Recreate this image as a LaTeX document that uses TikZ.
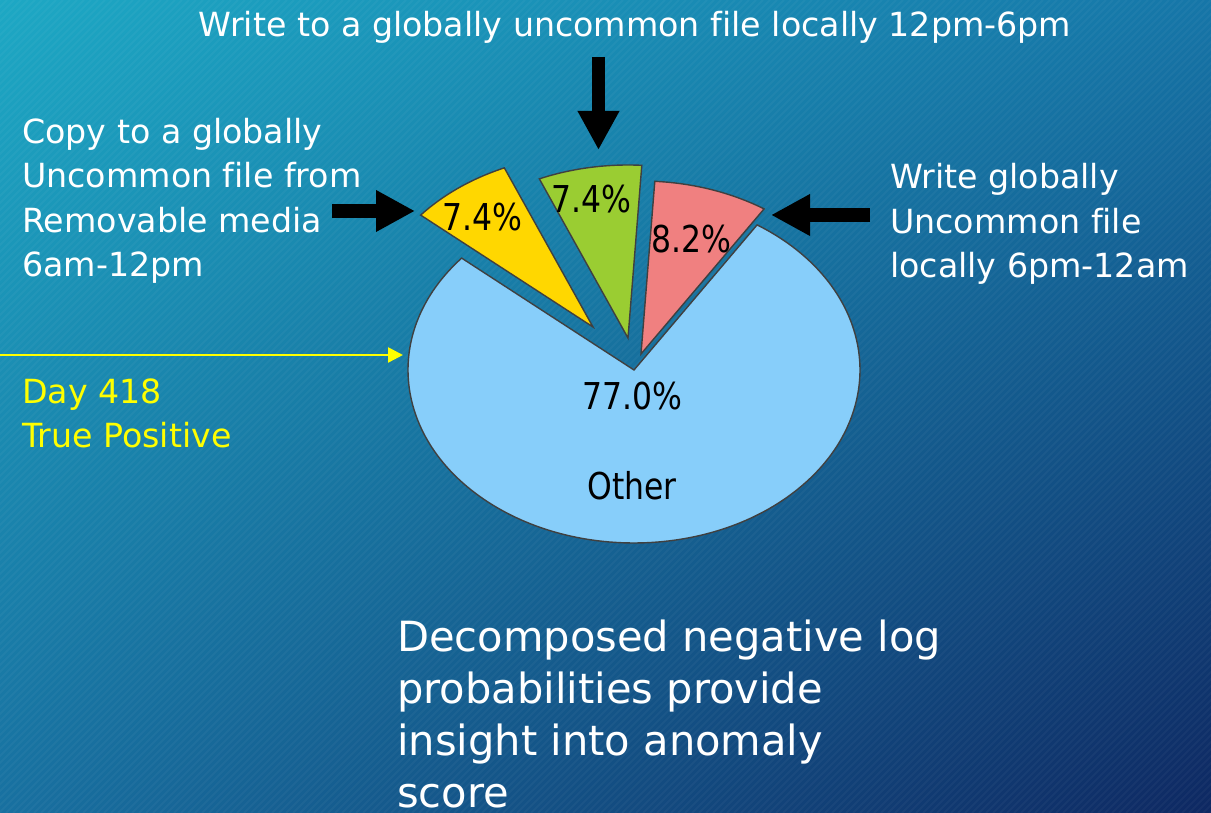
\documentclass[tikz,border=0pt]{standalone}
\usepackage{fontspec}
\setmainfont[Ligatures=NoCommon]{DejaVu Sans}
\newfontfamily\chartfont[FakeStretch=0.85]{DejaVu Sans}
\usetikzlibrary{arrows.meta,shadings}

\definecolor{bgUL}{RGB}{29,168,196}
\definecolor{bgUR}{RGB}{22,118,168}
\definecolor{bgLL}{RGB}{24,112,160}
\definecolor{bgLR}{RGB}{14,40,98}
\definecolor{sliceYellow}{RGB}{255,215,0}
\definecolor{sliceGreen}{RGB}{154,205,50}
\definecolor{sliceRed}{RGB}{240,128,128}
\definecolor{sliceBlue}{RGB}{135,206,250}
\definecolor{noteYellow}{RGB}{255,255,0}

\tikzset{
  slice/.style={draw=black!75, line width=1.4pt},
  whitetext/.style={text=white, font=\fontsize{33.25}{44.5}\selectfont, align=left, inner sep=0pt},
  bigtext/.style={text=white, font=\fontsize{41.6}{52}\selectfont, align=left, inner sep=0pt},
  pct/.style={text=black, font=\chartfont\fontsize{37}{40}\selectfont, inner sep=0pt},
  blkarrow/.style={line width=13.5pt, black, -{Triangle[length=39pt,width=39pt]}},
  yelarrow/.style={line width=2.5pt, noteYellow, -{Triangle[length=15pt,width=15pt]}},
}

\begin{document}
\begin{tikzpicture}[x=1pt, y=1pt]
  \useasboundingbox (0,0) rectangle (1211,813);
  % slide background: diagonal gradient with fine stripes
  \shade[upper left=bgUL, upper right=bgUR, lower left=bgLL, lower right=bgLR]
    (0,0) rectangle (1211,813);
  \begin{scope}
    \clip (0,0) rectangle (1211,813);
    \foreach \k in {0,7,...,2030} {
      \draw[white, opacity=0.035, line width=2pt] (\k-813,0) -- (\k,813);
    }
  \end{scope}

  % pie chart: ellipse radii 226 x 173
  \def\rx{226}\def\ry{173}
  \coordinate (cOther)  at (634,443);
  \coordinate (cYellow) at (593,486);
  \coordinate (cGreen)  at (628,475);
  \coordinate (cRed)    at (641,459);

  \filldraw[slice, fill=sliceBlue] (cOther) -- ++(139.7:\rx pt and \ry pt)
    arc[start angle=139.7, end angle=417, x radius=\rx, y radius=\ry] -- cycle;
  \filldraw[slice, fill=sliceYellow] (cYellow) -- ++(113.1:\rx pt and \ry pt)
    arc[start angle=113.1, end angle=139.7, x radius=\rx, y radius=\ry] -- cycle;
  \filldraw[slice, fill=sliceGreen] (cGreen) -- ++(86.5:\rx pt and \ry pt)
    arc[start angle=86.5, end angle=113.1, x radius=\rx, y radius=\ry] -- cycle;
  \filldraw[slice, fill=sliceRed] (cRed) -- ++(57:\rx pt and \ry pt)
    arc[start angle=57, end angle=86.5, x radius=\rx, y radius=\ry] -- cycle;

  % slice labels
  \node[pct] (lblYellow) at (482,596) {7.4\%};
  \node[pct] (lblGreen)  at (591,614) {7.4\%};
  \node[pct] (lblRed)    at (691,574) {8.2\%};
  \node[pct] (lblOther)  at (632,417) {77.0\%};
  \node[pct] (lblName)   at (632,327) {Other};

  % annotations (base anchor of a multi-line node = its last baseline)
  \node[whitetext, anchor=base] (topnote) at (635,776)
    {Write to a globally uncommon file locally 12pm-6pm};
  \node[whitetext, anchor=base west] (leftnote) at (22,536)
    {Copy to a globally\\Uncommon file from\\Removable media\\6am-12pm};
  \node[whitetext, anchor=base west] (rightnote) at (890,535)
    {Write globally\\Uncommon file\\locally 6pm-12am};
  \node[whitetext, text=noteYellow, anchor=base west] (daynote) at (22,365)
    {Day 418\\True Positive};
  \node[bigtext, anchor=base west] (summary) at (397,5)
    {Decomposed negative log\\probabilities provide\\insight into anomaly\\score};

  % pointers
  \coordinate (leftTail)  at (332,602);
  \coordinate (leftTip)   at (415,602);
  \coordinate (topTail)   at (598.5,756);
  \coordinate (topTip)    at (598.5,663);
  \coordinate (rightTail) at (870,598);
  \coordinate (rightTip)  at (771,598);
  \coordinate (dayTail)   at (0,458);
  \coordinate (dayTip)    at (403,458);
  \draw[blkarrow] (leftTail) -- (leftTip);
  \draw[blkarrow] (topTail) -- (topTip);
  \draw[blkarrow] (rightTail) -- (rightTip);
  \draw[yelarrow] (dayTail) -- (dayTip);
\end{tikzpicture}
\end{document}
